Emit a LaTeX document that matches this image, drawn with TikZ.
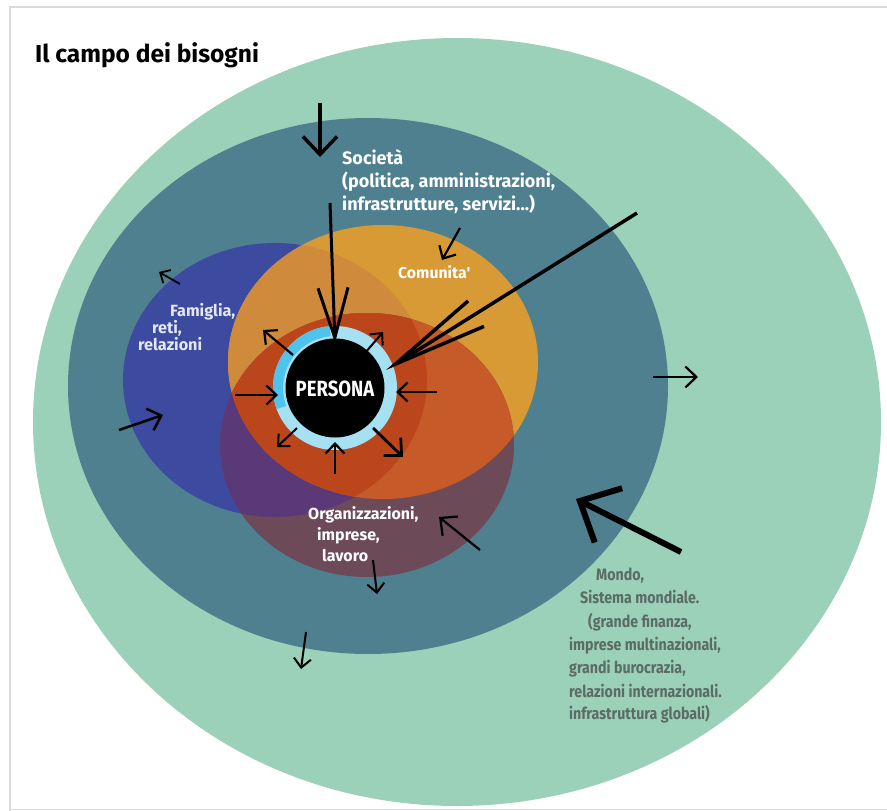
\documentclass[tikz,border=0pt]{standalone}
\usepackage{fontspec}
\setmainfont{Fira Sans}
\newfontfamily\condfont{Fira Sans}[FakeStretch=0.86]
\newfontfamily\persfont{Fira Sans}[FakeStretch=0.84]
\usetikzlibrary{arrows.meta}
\definecolor{outerg}{HTML}{9CD1B9}
\definecolor{tealc}{HTML}{4F808F}
\definecolor{bluec}{HTML}{3C4B9F}
\definecolor{orangec}{HTML}{D79A34}
\definecolor{boc}{HTML}{D08A3C}
\definecolor{maroonc}{HTML}{6C4A58}
\definecolor{purplec}{HTML}{5B3878}
\definecolor{omc}{HTML}{C65A28}
\definecolor{redc}{HTML}{BC461C}
\definecolor{ringl}{HTML}{A6E1F3}
\definecolor{ringc}{HTML}{4EC3EE}
\definecolor{framec}{HTML}{DADADA}
\definecolor{mondoc}{HTML}{5B6B65}
\definecolor{famc}{HTML}{E4E6F2}
\tikzset{
  ellOuter/.style={insert path={(457,422) ellipse [x radius=424, y radius=384]}},
  ellSoc/.style={insert path={(368,386) ellipse [x radius=300, y radius=268]}},
  ellB/.style={insert path={(275,380) ellipse [x radius=152, y radius=137]}},
  ellO/.style={insert path={(383,362) ellipse [x radius=155, y radius=137]}},
  ellM/.style={insert path={(367,445) ellipse [x radius=147, y radius=132]}},
  harr/.style 2 args={line width=#1, -{Straight Barb[length=#2pt, width=#2pt*1.9]}},
  txt/.style={anchor=base west, inner sep=0pt, font=\bfseries},
}
\begin{document}
\begin{tikzpicture}[x=1pt,y=-1pt]
\useasboundingbox (0,0) rectangle (887,811);
\fill[white] (0,0) rectangle (887,811);
\draw[framec, line width=1.5] (10,811) -- (10,7) -- (887,7);
\draw[framec, line width=1] (10,809) -- (887,809);

% ellipses
\fill[outerg, ellOuter];
\fill[tealc, ellSoc];
\fill[bluec, ellB];
\fill[orangec, ellO];
\begin{scope}
  \path[clip, ellB];
  \fill[boc, ellO];
\end{scope}
\fill[maroonc, ellM];
\begin{scope}
  \path[clip, ellM];
  \fill[purplec, ellB];
  \fill[omc, ellO];
  \path[clip, ellB];
  \fill[redc, ellO];
\end{scope}

% title
\node[txt, font=\bfseries\fontsize{24.5}{28}\selectfont] (title) at (35,62) {Il campo dei bisogni};

% labels
\node[txt, white, font=\bfseries\fontsize{18}{20}\selectfont] (soc1) at (342,164) {Società};
\node[txt, white, font=\bfseries\fontsize{18}{20}\selectfont] (soc2) at (342,187) {(politica, amministrazioni,};
\node[txt, white, font=\bfseries\fontsize{18}{20}\selectfont] (soc3) at (342,210) {infrastrutture, servizi...)};
\node[txt, white, font=\bfseries\fontsize{15.8}{17}\selectfont] (com) at (398,278) {Comunita\textquotesingle};
\node[txt, famc, font=\bfseries\fontsize{16.2}{17}\selectfont] (fam1) at (170,316) {Famiglia,};
\node[txt, famc, font=\bfseries\fontsize{16.2}{17}\selectfont] (fam2) at (152,333) {reti,};
\node[txt, famc, font=\bfseries\fontsize{16.2}{17}\selectfont] (fam3) at (138,350) {relazioni};
\node[txt, white, font=\bfseries\fontsize{16}{18}\selectfont] (org1) at (308,519) {Organizzazioni,};
\node[txt, white, font=\bfseries\fontsize{16}{18}\selectfont] (org2) at (317,540) {imprese,};
\node[txt, white, font=\bfseries\fontsize{16}{18}\selectfont] (org3) at (322,561) {lavoro};
\begin{scope}[every node/.style={txt, mondoc, font=\condfont\bfseries\fontsize{16.5}{18}\selectfont}]
\node (m1) at (596,580) {Mondo,};
\node (m2) at (580,603) {Sistema mondiale.};
\node (m3) at (588,627) {(grande finanza,};
\node (m4) at (569,650) {imprese multinazionali,};
\node (m5) at (569,673) {grandi burocrazia,};
\node (m6) at (569,697) {relazioni internazionali.};
\node (m7) at (569,719) {infrastruttura globali)};
\end{scope}

% persona
\fill[ringl] (335,388) circle [radius=62];
\draw[ringc, line width=10] (335,388) ++(160:57) arc [start angle=160, end angle=265, radius=57];
\node[circle, fill=black, minimum size=99pt, inner sep=0pt] (pers) at (335,388) {};
\node[white, font=\persfont\bfseries\fontsize{22}{24}\selectfont] (perst) at (335,389) {PERSONA};

% arrows coordinates
\coordinate (a1s) at (320,103); \coordinate (a1e) at (320,157);
\coordinate (a2s) at (330,203); \coordinate (a2e) at (335,343);
\coordinate (a3s) at (460,228); \coordinate (a3e) at (442,260);
\coordinate (a4s) at (637,213); \coordinate (a4e) at (386,370);
\coordinate (a5s) at (180,284); \coordinate (a5e) at (159,272);
\coordinate (a6s) at (119,430); \coordinate (a6e) at (163,415);
\coordinate (a7s) at (653,377); \coordinate (a7e) at (698,377);
\coordinate (a8s) at (306,632); \coordinate (a8e) at (301,669);
\coordinate (a9s) at (480,550); \coordinate (a9e) at (439,517);
\coordinate (a10s) at (373,560); \coordinate (a10e) at (377,594);
\coordinate (a11s) at (681,552); \coordinate (a11e) at (576,499);
% persona arrows
\coordinate (p1s) at (293,355); \coordinate (p1e) at (263,330);
\coordinate (p2s) at (365,353); \coordinate (p2e) at (383,332);
\coordinate (p3s) at (235,395); \coordinate (p3e) at (278,395);
\coordinate (p4s) at (437,392); \coordinate (p4e) at (396,392);
\coordinate (p5s) at (297,428); \coordinate (p5e) at (277,447);
\coordinate (p6s) at (335,474); \coordinate (p6e) at (335,442);
\coordinate (p7s) at (373,428); \coordinate (p7e) at (403,457);

\draw[harr={3.5}{18}] (a1s) -- (a1e);
\draw[line width=3, -{Straight Barb[length=50pt, width=30pt]}] (a2s) -- (a2e);
\draw[harr={2.2}{10}] (a3s) -- (a3e);
\draw[line width=3.5, -{Straight Barb[length=95pt, width=30pt]}] (a4s) -- (a4e);
\draw[harr={1.8}{8}] (a5s) -- (a5e);
\draw[harr={2.5}{12}] (a6s) -- (a6e);
\draw[harr={2.2}{11}] (a7s) -- (a7e);
\draw[harr={2}{9}] (a8s) -- (a8e);
\draw[harr={2.2}{13}] (a9s) -- (a9e);
\draw[harr={2}{9}] (a10s) -- (a10e);
\draw[harr={6}{32}] (a11s) -- (a11e);
\draw[harr={2.2}{10}] (p1s) -- (p1e);
\draw[harr={2}{9}] (p2s) -- (p2e);
\draw[harr={2.2}{10}] (p3s) -- (p3e);
\draw[harr={2.2}{10}] (p4s) -- (p4e);
\draw[harr={2}{9}] (p5s) -- (p5e);
\draw[harr={2.2}{10}] (p6s) -- (p6e);
\draw[harr={2.8}{13}] (p7s) -- (p7e);
\end{tikzpicture}
\end{document}
